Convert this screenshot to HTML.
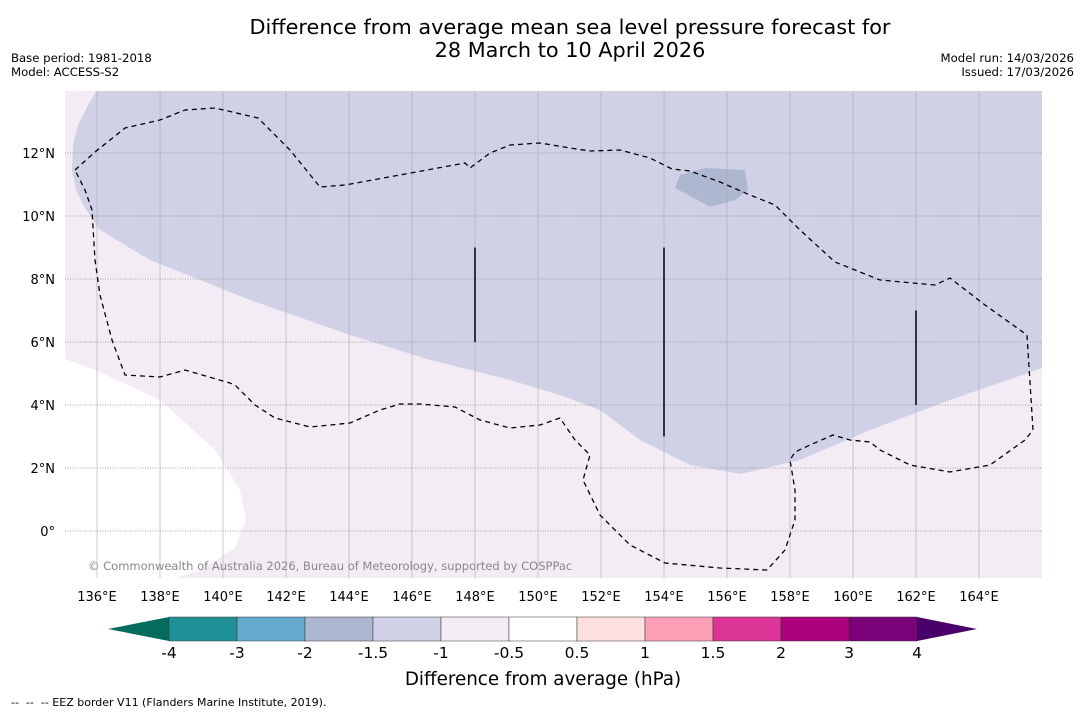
<!DOCTYPE html>
<html><head><meta charset="utf-8">
<style>
body{margin:0;background:#fff;width:1085px;height:713px;overflow:hidden;font-family:"Liberation Sans","DejaVu Sans",sans-serif;}
svg text{font-family:"DejaVu Sans","Liberation Sans",sans-serif;}
</style></head>
<body>
<svg id="chart" width="1085" height="713" xmlns="http://www.w3.org/2000/svg">
<text x="570" y="34" font-size="20.8" text-anchor="middle">Difference from average mean sea level pressure forecast for</text>
<text x="570" y="57" font-size="20.8" text-anchor="middle">28 March to 10 April 2026</text>
<text x="11" y="62" font-size="11.7">Base period: 1981-2018</text>
<text x="11" y="76" font-size="11.7">Model: ACCESS-S2</text>
<text x="1074" y="62" font-size="11.7" text-anchor="end">Model run: 14/03/2026</text>
<text x="1074" y="76" font-size="11.7" text-anchor="end">Issued: 17/03/2026</text>
<defs><clipPath id="mapclip"><rect x="65" y="91" width="977" height="487"/></clipPath></defs>
<g id="map" clip-path="url(#mapclip)"></g>
<g id="axes"></g>
<g id="cbar"></g>
<text x="543" y="685" font-size="18.3" text-anchor="middle">Difference from average (hPa)</text>
<text x="11" y="706" font-size="11" xml:space="preserve" style="white-space:pre">--  --  -- EEZ border V11 (Flanders Marine Institute, 2019).</text>
</svg>
<script>
// ---- data ----
const lonTicks = [136,138,140,142,144,146,148,150,152,154,156,158,160,162,164];
const latTicks = [0,2,4,6,8,10,12];
const levels = [-4,-3,-2,-1.5,-1,-0.5,0.5,1,1.5,2,3,4];
const levelLabels = ["-4","-3","-2","-1.5","-1","-0.5","0.5","1","1.5","2","3","4"];
const levelColors = ["#1f9196","#66a9cf","#adb8d0","#d0d1e6","#f3ecf5","#ffffff","#fde0dd","#fa9fb5","#dd3497","#ae017e","#7a0177"];
const underColor = "#036c5f", overColor = "#49006a";
const whitePx = [[60,357],[100,372],[160,400],[215,450],[240,490],[246,520],[235,548],[200,570],[170,580],[60,580]];
const bluePx = [[100,85],[88,105],[78,125],[73,145],[72,170],[76,190],[85,208],[100,230],[150,260],[250,300],[350,335],[430,360],[510,380],[560,395],[600,410],[640,440],[690,465],[740,474],[800,460],[870,430],[950,400],[1045,367],[1045,85]];
const darkPx = [[680,175],[705,168],[745,170],[748,190],[735,200],[710,207],[675,188]];
const eezPx = [[75,170],[95,152],[125,128],[160,120],[185,110],[215,108],[258,118],[290,150],[320,187],[345,185],[400,175],[465,163],[470,168],[490,153],[510,145],[540,143],[570,148],[590,151],[620,150],[650,158],[672,169],[690,171],[720,182],[750,195],[775,205],[800,230],[835,262],[880,280],[935,285],[950,278],[985,305],[1027,335],[1033,430],[1025,440],[990,465],[950,472],[910,465],[880,450],[870,442],[850,440],[833,435],[810,445],[795,452],[790,460],[795,490],[795,520],[785,550],[767,570],[720,568],[665,563],[630,545],[600,515],[583,480],[590,455],[575,440],[560,418],[540,425],[510,428],[480,420],[455,407],[420,404],[400,404],[380,410],[350,423],[310,427],[275,418],[255,405],[235,385],[230,383],[185,370],[160,377],[125,375],[112,340],[100,295],[95,260],[92,210],[85,190],[75,170]];
const tracks = [[148,9,6],[154,9,3],[162,7,4]];
// ---- axes ----
const X = lon => 65.5 + (lon-135)*31.5;
const Y = lat => 531 - lat*31.5;
const toLL = p => [135+(p[0]-65.5)/31.5, (531-p[1])/31.5];
const NS="http://www.w3.org/2000/svg";
function el(tag,attrs,parent){const e=document.createElementNS(NS,tag);for(const k in attrs)e.setAttribute(k,attrs[k]);parent.appendChild(e);return e;}
const map=document.getElementById('map'), axes=document.getElementById('axes'), cbar=document.getElementById('cbar');
const pts = arr => arr.map(toLL).map(q=>X(q[0]).toFixed(1)+','+Y(q[1]).toFixed(1)).join(' ');
let r=el('rect',{x:65,y:91,width:977,height:487,fill:'#f3ecf5'},map);


let p=el('polygon',{points:pts(whitePx),fill:'#ffffff'},map);


p=el('polygon',{points:pts(bluePx),fill:'#d0d1e6'},map);


p=el('polygon',{points:pts(darkPx),fill:'#adb8d0'},map);


lonTicks.forEach(l=>{const g=el('line',{x1:X(l),x2:X(l),y1:91,y2:578,stroke:'#a8a8b0','stroke-width':0.6},map);

});
latTicks.forEach(l=>{const g=el('line',{x1:65,x2:1042,y1:Y(l),y2:Y(l),stroke:'#888','stroke-width':0.7,'stroke-dasharray':'1,1.5'},map);

});
p=el('polyline',{points:pts(eezPx),fill:'none',stroke:'#000','stroke-width':1.3,'stroke-dasharray':'5,4'},map);


tracks.forEach(t=>{const g=el('line',{x1:X(t[0]),x2:X(t[0]),y1:Y(t[1]),y2:Y(t[2]),stroke:'#000','stroke-width':1.5},map);

});
let wm=el('text',{x:88,y:570,'font-size':11.5,fill:'#888'},map);wm.textContent='© Commonwealth of Australia 2026, Bureau of Meteorology, supported by COSPPac';


lonTicks.forEach(l=>{const t=el('text',{x:X(l),y:601,'font-size':13,'text-anchor':'middle'},axes);t.textContent=l+'°E';

});
latTicks.forEach(l=>{const t=el('text',{x:55,y:Y(l)+5,'font-size':13,'text-anchor':'end'},axes);t.textContent=l===0?'0°':l+'°N';

});
// ---- colorbar ----
const cx0=169, cw=68, cy=617, ch=24;
let a=el('polygon',{points:`${cx0},${cy} ${cx0},${cy+ch} 108,${cy+ch/2}`,fill:underColor},cbar);


levelColors.forEach((c,i)=>{const b=el('rect',{x:cx0+i*cw,y:cy,width:cw,height:ch,fill:c,stroke:'#333','stroke-width':0.5},cbar);

});
const cx1=cx0+levelColors.length*cw;
a=el('polygon',{points:`${cx1},${cy} ${cx1},${cy+ch} 977,${cy+ch/2}`,fill:overColor},cbar);


levels.forEach((v,i)=>{const t=el('text',{x:cx0+i*cw,y:658,'font-size':15.5,'text-anchor':'middle'},cbar);t.textContent=levelLabels[i];

});
</script>
</body></html>
